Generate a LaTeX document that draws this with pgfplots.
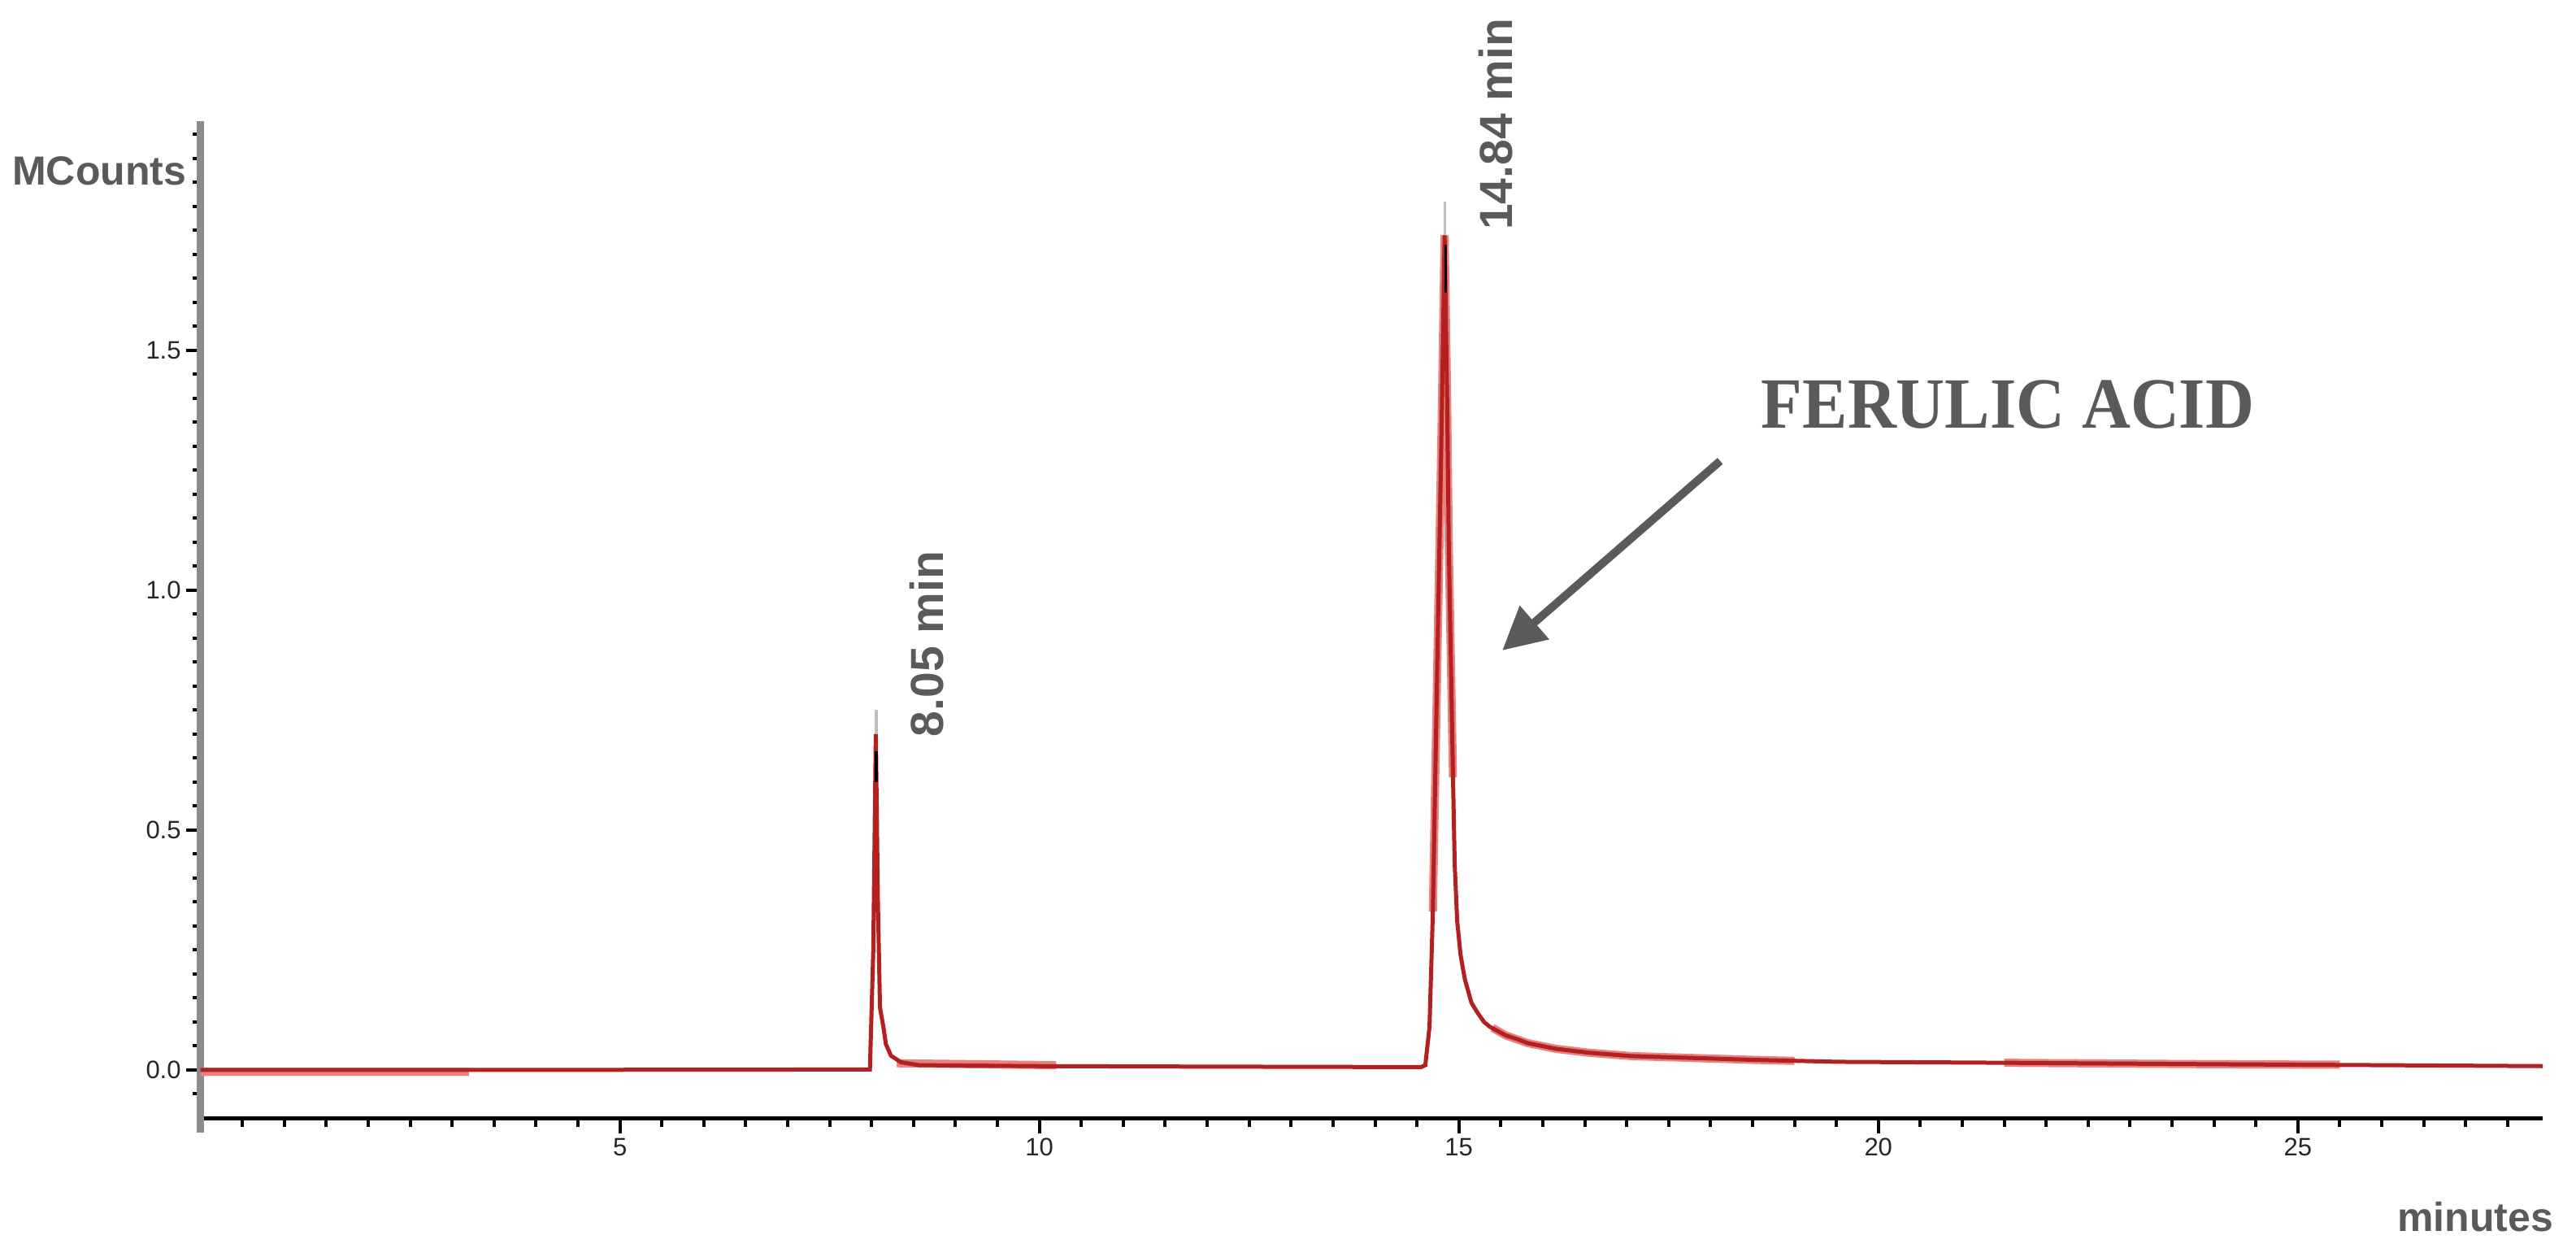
\documentclass[border=0pt]{standalone}
\usepackage{pgfplots}
\pgfplotsset{compat=1.18}
\usepackage{fontspec}
\setmainfont{Liberation Sans}
\newfontfamily\serifF{Liberation Serif}
\usetikzlibrary{arrows.meta}
\definecolor{txtgray}{HTML}{5A5A5A}
\definecolor{trred}{RGB}{178,32,32}
\definecolor{trpink}{RGB}{234,128,128}
\definecolor{axgray}{RGB}{140,140,140}

\pgfplotstableread{
t v
0 0
3.2 0
7.98 0.001
8.02 0.25
8.05 0.70
8.075 0.35
8.10 0.13
8.14 0.09
8.17 0.054
8.23 0.03
8.35 0.016
8.57 0.010
10 0.008
12 0.007
14.55 0.006
14.60 0.010
14.65 0.09
14.69 0.33
14.74 0.82
14.79 1.30
14.83 1.74
14.86 1.40
14.88 1.09
14.93 0.61
14.95 0.43
14.98 0.31
15.02 0.24
15.07 0.19
15.15 0.14
15.22 0.12
15.30 0.10
15.37 0.090
15.56 0.072
15.70 0.064
15.82 0.056
16.16 0.044
16.55 0.036
17.05 0.029
17.79 0.025
18.53 0.021
19.52 0.017
21.5 0.015
24 0.012
26 0.010
27.92 0.008
}\trace

\begin{document}
\begin{tikzpicture}
\begin{axis}[
  scale only axis, width=576.3pt, height=245.4pt,
  xmin=0, xmax=27.92, ymin=-0.1017, ymax=1.978,
  axis x line*=bottom, axis y line*=left,
  x axis line style={black, line width=1pt},
  y axis line style={axgray, line width=1.8pt},
  xtick={5,10,15,20,25}, minor xtick={0.5,1,...,27.5},
  ytick={0,0.5,1,1.5}, minor ytick={-0.05,0,...,1.95},
  tick align=outside,
  major tick length=3.6pt, minor tick length=2pt,
  tick style={black, line width=0.8pt},
  minor tick style={black, line width=0.8pt},
  ticklabel style={font=\fontsize{6.2}{7}\selectfont, text=black!85, inner sep=1pt},
  /pgf/number format/assume math mode=true,
  yticklabel style={/pgf/number format/.cd, fixed, fixed zerofill, precision=1},
  unbounded coords=jump,
  clip=false,
]
\draw[axgray, line width=1.8pt] (axis cs:0,-0.1017) -- (axis cs:0,-0.13);
% gray tips
\addplot[gray!50, line width=0.7pt] coordinates {(8.055,0.66) (8.055,0.75) (8.055,nan) (14.835,1.65) (14.835,1.81)};
% pink overlay segments
\addplot[trpink, line width=2pt] coordinates {
 (0,-0.004) (3.2,-0.004) (3.2,nan)
 (8.3,0.014) (10.2,0.010) (10.2,nan)
 (14.69,0.33) (14.74,0.82) (14.79,1.30) (14.83,1.74) (14.86,1.40) (14.88,1.09) (14.93,0.61) (14.93,nan)
 (15.4,0.088) (15.56,0.072) (15.82,0.056) (16.16,0.044) (16.55,0.036) (17.05,0.029) (17.79,0.025) (18.53,0.021) (19.0,0.019) (19.0,nan)
 (21.5,0.015) (24,0.012) (25.5,0.011)
};
\addplot[trred, line width=1pt] table[x=t, y=v] {\trace};
% black inner trace bits
\addplot[black, line width=0.7pt] coordinates {(8.058,0.60) (8.058,0.665) (8.058,nan) (14.842,1.62) (14.842,1.72)};
\coordinate (O) at (rel axis cs:0,0);
\end{axis}
\node[anchor=base east, font=\bfseries\fontsize{10}{12}\selectfont, text=txtgray, inner sep=0pt] at ([shift={(-3.3pt,229.6pt)}]O) {MCounts};
\node[anchor=base east, font=\bfseries\fontsize{10}{12}\selectfont, text=txtgray, inner sep=0pt] at ([shift={(579.1pt,-27.8pt)}]O) {minutes};
\node[rotate=90, anchor=center, font=\bfseries\fontsize{11.4}{13}\selectfont, text=txtgray, inner sep=0pt] at ([shift={(318.7pt,244.6pt)}]O) {14.84 min};
\node[rotate=90, anchor=center, font=\bfseries\fontsize{11.4}{13}\selectfont, text=txtgray, inner sep=0pt] at ([shift={(178.7pt,116.8pt)}]O) {8.05 min};
\node[anchor=base, font=\serifF\bfseries\fontsize{16.6}{20}\selectfont, text=txtgray, inner sep=0pt, yscale=1.07] at ([shift={(444.7pt,169.8pt)}]O) {FERULIC ACID};
\draw[txtgray, line width=2pt, -{Triangle[length=10.5pt,width=10.5pt]}] ([shift={(373.9pt,161.8pt)}]O) -- ([shift={(320.3pt,115.2pt)}]O);
\pgfresetboundingbox
\path[use as bounding box] ([shift={(-49.32pt,-34pt)}]O) rectangle ([shift={(584.48pt,275.2pt)}]O);
\end{tikzpicture}
\end{document}
